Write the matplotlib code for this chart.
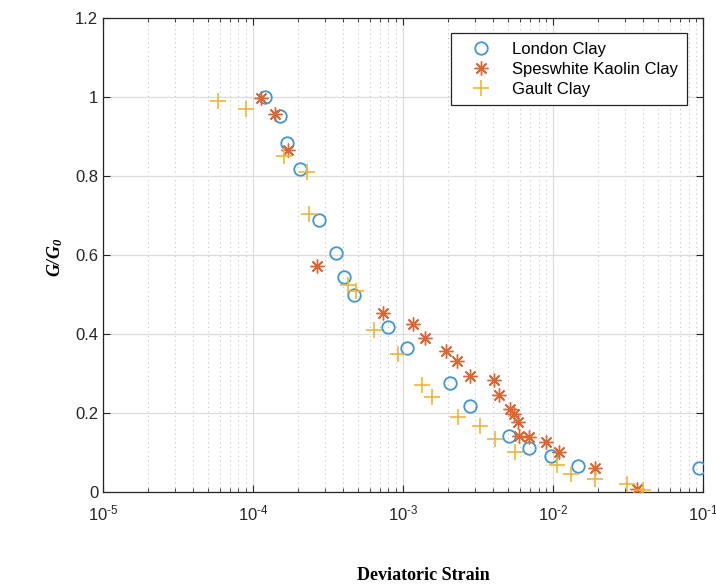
import matplotlib
matplotlib.use("Agg")
import matplotlib.pyplot as plt
from matplotlib.ticker import FixedLocator, LogLocator, NullFormatter

# Normalised shear modulus vs deviatoric strain for three clays
london_strain = [1.2e-4, 1.51e-4, 1.68e-4, 2.06e-4, 2.77e-4, 3.57e-4, 4.06e-4, 4.74e-4,
                 7.98e-4, 1.06e-3, 2.06e-3, 2.8e-3, 5.1e-3, 6.9e-3, 9.66e-3, 1.46e-2, 9.45e-2]
london_ratio = [1.0, 0.952, 0.883, 0.817, 0.689, 0.606, 0.544, 0.499,
                0.419, 0.364, 0.277, 0.218, 0.143, 0.111, 0.091, 0.066, 0.062]

kaolin_strain = [1.13e-4, 1.40e-4, 1.70e-4, 2.68e-4, 7.4e-4, 1.17e-3, 1.40e-3, 1.92e-3,
                 2.29e-3, 2.8e-3, 4.05e-3, 4.37e-3, 5.2e-3, 5.5e-3, 5.81e-3, 5.97e-3,
                 6.96e-3, 8.98e-3, 1.1e-2, 1.9e-2, 3.65e-2]
kaolin_ratio = [0.997, 0.956, 0.866, 0.572, 0.454, 0.425, 0.389, 0.358,
                0.332, 0.294, 0.284, 0.246, 0.209, 0.197, 0.176, 0.143,
                0.138, 0.127, 0.102, 0.060, 0.008]

gault_strain = [5.8e-5, 9.0e-5, 1.61e-4, 2.29e-4, 2.36e-4, 4.3e-4, 4.86e-4, 6.45e-4,
                9.2e-4, 1.33e-3, 1.55e-3, 2.34e-3, 3.26e-3, 4.1e-3, 5.58e-3, 1.06e-2,
                1.32e-2, 1.9e-2, 3.1e-2, 3.96e-2]
gault_ratio = [0.990, 0.970, 0.851, 0.810, 0.704, 0.524, 0.510, 0.410,
               0.349, 0.271, 0.241, 0.191, 0.168, 0.133, 0.100, 0.068,
               0.045, 0.032, 0.020, 0.005]

x_ticks = [1e-5, 1e-4, 1e-3, 1e-2, 1e-1]
x_tick_labels = ["$\\mathregular{10^{\u2010" + e + "}}$" for e in ["5", "4", "3", "2", "1"]]
y_ticks = [0, 0.2, 0.4, 0.6, 0.8, 1.0, 1.2]
y_tick_labels = ["0", "0.2", "0.4", "0.6", "0.8", "1", "1.2"]

plt.rcParams["font.family"] = ["Liberation Sans", "DejaVu Sans"]

fig = plt.figure(figsize=(7.16, 5.85), dpi=100)
ax = fig.add_axes([0.1439, 0.159, 0.838, 0.81])

ax.plot(london_strain, london_ratio, linestyle="none", marker="o", markersize=9,
        markerfacecolor="none", markeredgecolor="#3D97D8", markeredgewidth=1.3,
        label="London Clay", zorder=3)
ax.plot(kaolin_strain, kaolin_ratio, linestyle="none", marker=(8, 2, 0), markersize=10,
        markeredgecolor="#E2642E", color="#E2642E", markeredgewidth=1.0,
        label="Speswhite Kaolin Clay", zorder=3)
ax.plot(gault_strain, gault_ratio, linestyle="none", marker="+", markersize=11,
        markeredgecolor="#F2B531", markeredgewidth=1.2,
        label="Gault Clay", zorder=3)

ax.set_xscale("log")
ax.set_xlim(1e-5, 1e-1)
ax.set_ylim(0, 1.2)

ax.xaxis.set_major_locator(FixedLocator(x_ticks))
ax.set_xticklabels(x_tick_labels)
ax.xaxis.set_minor_locator(LogLocator(base=10, subs=range(2, 10), numticks=20))
ax.xaxis.set_minor_formatter(NullFormatter())
ax.set_yticks(y_ticks)
ax.set_yticklabels(y_tick_labels)

ax.tick_params(axis="both", which="both", direction="in", top=True, right=True,
               colors="#262626", labelsize=12, labelcolor="#262626")
ax.tick_params(axis="both", which="major", length=5, width=0.8)
ax.tick_params(axis="x", which="minor", length=3, width=0.6)
ax.tick_params(axis="x", which="major", pad=8)

ax.grid(True, which="major", color="#dcdcdc", linestyle="-", linewidth=0.9, zorder=0)
ax.grid(True, which="minor", axis="x", color="#c4c4c4", linestyle=(0, (1, 3)),
        linewidth=0.8, zorder=0)
ax.set_axisbelow(True)

for s in ax.spines.values():
    s.set_color("#262626")
    s.set_linewidth(0.9)

leg = ax.legend(loc="upper right", bbox_to_anchor=(0.978, 0.975), fontsize=12,
                frameon=True, fancybox=False, edgecolor="#262626", framealpha=1,
                borderpad=0.5, handletextpad=0.6, labelspacing=0.3, borderaxespad=0.2,
                handlelength=2.6)
leg.get_frame().set_linewidth(0.9)

serif_bold = dict(family=["Liberation Serif", "DejaVu Serif"], weight="bold", fontsize=13)
fig.text(0.592, 0.017, "Deviatoric Strain", ha="center", va="center", **serif_bold)
fig.text(0.077, 0.560, r"$\mathregular{G/G_0}$", rotation=90, ha="center", va="center",
         style="italic", **serif_bold)

fig.savefig("out.png", dpi=100)
